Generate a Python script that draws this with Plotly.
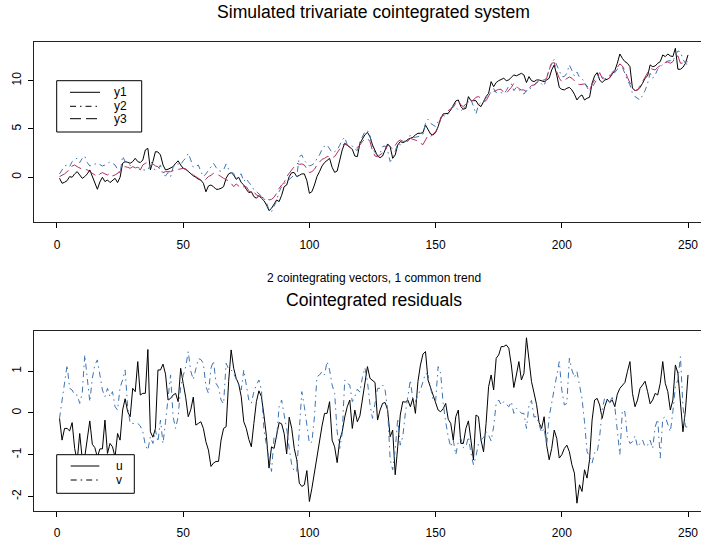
import plotly.graph_objects as go

# ---------------- data ----------------
t = list(range(1, 251))

y1 = [
-0.10,-0.62,-0.52,-0.35,0.07,0.00,0.35,0.58,0.24,-0.11,
0.07,0.35,0.76,0.07,-0.69,-1.24,-0.48,0.00,-0.45,-0.28,
-0.55,-0.35,-0.11,-0.55,0.00,1.45,1.62,1.55,1.45,1.62,
1.96,1.62,1.52,1.79,2.83,3.00,0.76,1.62,2.65,2.62,
2.31,1.27,0.76,0.83,0.93,1.10,1.45,1.70,1.27,0.93,
0.83,0.58,0.30,0.15,0.00,-0.20,-0.30,-0.62,-1.50,-0.90,
-0.80,-0.97,-1.24,-1.24,-1.14,-0.97,-0.11,0.35,0.48,0.24,
-0.21,0.00,-0.55,-0.80,-1.24,-1.59,-1.49,-2.00,-2.17,-1.90,
-2.17,-2.42,-2.87,-3.45,-3.21,-2.76,-2.35,-2.52,-1.87,-0.97,
-0.80,0.07,0.48,0.48,0.07,0.20,0.35,0.35,-0.35,-1.66,
-1.49,-0.80,0.07,0.58,1.17,1.52,1.79,1.96,1.03,0.51,
0.65,1.86,2.83,3.52,3.34,3.17,2.90,2.20,2.14,3.50,
3.90,4.40,4.65,4.20,3.34,2.83,2.20,2.03,2.20,2.83,
3.45,3.17,1.96,2.31,3.34,3.69,3.59,3.69,3.93,4.03,
4.14,4.38,4.55,4.55,4.62,5.41,4.97,4.48,4.38,4.62,
5.24,6.10,6.55,6.62,6.62,6.97,7.49,7.90,8.00,7.32,
7.04,7.14,8.35,7.93,7.93,7.93,7.49,7.32,7.83,8.35,
8.69,9.90,9.38,9.80,10.00,10.14,10.25,10.00,10.07,10.35,
10.59,10.50,10.66,10.76,10.59,9.80,10.42,10.00,9.90,10.07,
10.07,10.00,9.90,10.07,10.25,11.11,11.63,10.59,9.30,9.10,
9.04,9.21,9.30,9.04,8.60,8.00,8.35,8.52,8.00,8.18,
8.28,9.73,10.50,10.83,10.07,9.80,10.07,10.14,10.30,10.70,
11.04,11.80,12.76,12.31,11.97,11.80,11.45,9.21,8.97,9.04,
9.30,9.73,10.25,10.50,11.63,11.45,11.52,11.80,11.97,12.66,
12.49,12.76,12.56,12.49,13.35,11.18,11.18,11.38,11.80,12.66]

y2 = [
0.34,0.83,1.17,1.27,1.10,1.62,1.86,1.96,1.52,1.96,
2.20,1.52,1.17,1.27,1.38,1.45,1.31,1.17,1.27,1.45,
1.59,1.45,1.27,0.83,0.41,2.20,1.62,1.38,1.27,1.10,
0.97,1.03,0.93,0.76,0.76,0.76,1.27,0.93,0.76,0.83,
1.27,0.24,0.14,0.48,0.07,1.03,1.38,1.38,1.27,1.72,
1.96,2.48,1.79,1.03,1.10,1.27,0.58,0.07,0.34,0.69,
1.10,1.45,1.03,0.69,0.62,0.76,1.38,0.83,0.51,0.41,
-0.21,0.24,0.34,-0.45,-0.11,-0.55,-0.80,-1.31,-1.49,-1.73,
-1.93,-2.17,-2.62,-3.38,-3.56,-2.97,-2.42,-1.49,-0.97,-0.69,
-0.45,-0.18,0.07,0.24,0.07,2.14,2.31,1.72,1.45,1.17,
1.27,1.45,1.93,2.31,2.90,3.24,3.34,2.90,2.55,2.65,
2.83,3.31,3.86,4.14,3.34,3.34,3.24,2.90,2.76,3.65,
4.28,4.72,4.83,4.38,3.00,2.55,2.31,2.48,3.17,3.24,
2.76,1.62,1.96,2.76,3.45,3.34,3.69,3.76,3.72,4.38,
4.14,4.14,4.21,4.28,4.48,5.59,6.00,5.59,5.41,5.24,
5.76,6.21,6.41,6.28,6.55,6.97,7.45,7.25,6.97,6.87,
7.10,7.38,7.83,8.07,7.32,6.55,7.49,7.73,7.83,8.28,
8.45,8.87,9.17,8.76,8.80,8.76,8.62,8.97,9.45,9.66,
8.97,9.31,9.10,8.76,8.62,8.97,8.94,9.40,9.50,9.85,
9.93,9.66,9.45,10.35,11.18,11.87,12.21,11.63,11.04,10.42,
10.42,10.76,11.63,11.11,10.49,10.90,10.35,10.18,9.90,9.31,
8.87,9.31,9.73,10.21,10.59,10.42,10.14,10.42,10.56,10.70,
10.83,11.18,11.73,11.38,10.70,10.07,9.56,8.69,8.35,8.18,
8.00,8.49,8.97,9.73,10.76,10.25,10.59,11.18,11.45,11.73,
11.90,12.04,12.07,11.97,12.66,13.07,13.00,12.21,11.80,11.63]

y3 = [
0.07,0.17,0.35,0.58,0.76,1.17,1.27,1.10,0.93,0.83,
0.83,0.76,0.58,0.41,0.24,0.07,0.35,0.48,0.35,0.24,
0.41,0.14,0.24,0.41,0.58,1.03,1.10,1.03,0.93,1.10,
1.03,0.90,0.76,1.27,1.45,1.52,1.62,1.38,1.17,1.10,
0.83,0.48,0.58,0.58,0.58,0.69,0.76,0.76,0.83,0.93,
0.83,0.69,0.48,0.24,0.07,-0.11,-0.21,-0.45,-0.18,0.07,
0.20,0.41,0.41,0.20,0.07,-0.11,-0.21,-0.38,-0.62,-0.97,
-0.69,-0.90,-1.14,-0.97,-0.97,-1.38,-1.66,-1.49,-1.83,-1.93,
-2.07,-2.17,-2.17,-2.35,-2.28,-2.07,-1.66,-1.14,-0.80,-0.55,
0.07,0.48,0.76,1.10,1.45,1.34,1.38,1.27,0.93,0.48,
0.58,0.83,1.27,1.52,1.86,1.96,2.14,2.14,2.03,2.14,
2.48,2.93,3.34,3.45,3.31,3.17,2.90,2.90,3.10,3.34,
3.69,3.93,4.03,3.69,2.76,2.20,2.14,2.31,2.55,2.69,
3.34,3.17,2.90,3.34,3.69,3.86,3.72,3.59,3.76,4.03,
3.93,3.86,3.76,3.52,3.38,3.86,4.34,4.21,4.48,4.72,
5.17,6.00,6.55,6.73,6.83,7.04,7.25,7.66,7.93,7.49,
7.32,7.59,7.73,7.86,8.00,8.28,8.35,8.18,7.83,7.93,
8.35,8.87,8.87,8.97,9.10,9.10,8.76,8.69,8.97,9.30,
9.73,9.45,9.17,9.04,9.04,8.87,9.21,9.50,9.56,9.73,
10.00,10.07,10.07,10.25,11.18,11.80,11.87,10.93,10.25,9.90,
10.07,10.25,10.38,10.25,10.00,9.73,9.59,9.66,9.66,9.45,
8.97,9.66,10.07,10.42,10.83,10.25,10.07,10.07,10.35,10.83,
11.18,11.38,11.73,11.52,11.04,10.35,9.80,9.21,8.97,9.04,
9.45,9.90,10.28,10.76,11.28,11.18,11.11,11.38,11.59,11.73,
11.87,11.94,11.80,11.97,12.42,12.56,11.80,11.80,11.87,11.97]

u = [
-0.13,-0.65,-0.37,-0.37,-0.43,-0.23,-0.85,-1.15,-0.49,-1.10,
-1.05,-0.65,-0.19,-0.75,-0.83,-1.06,-0.86,-0.86,-0.17,-0.97,
-0.73,-0.81,-1.06,-0.49,-0.65,0.07,0.34,0.03,-0.09,0.59,
0.51,1.23,0.43,0.47,0.47,1.52,-0.45,-0.58,-0.37,1.03,
1.03,1.17,0.93,0.31,0.35,0.43,0.47,0.27,1.07,0.71,
0.37,-0.09,0.08,0.38,-0.29,-0.25,-0.21,-0.37,-0.69,-0.89,
-1.28,-1.20,-1.16,-1.16,-0.65,-0.37,-0.33,0.75,1.51,1.07,
0.83,0.69,0.39,-0.21,-0.37,-0.63,-0.81,-0.25,0.27,0.53,
0.39,-0.05,-0.57,-1.32,-0.81,-0.85,-0.57,-0.23,-0.26,-0.49,
-0.98,-0.10,-0.37,-0.85,-1.12,-1.68,-1.76,-1.72,-1.38,-2.12,
-1.80,-1.40,-1.04,-0.65,-0.31,-0.01,-0.01,0.27,-0.65,-0.81,
-1.19,-0.65,-0.45,-0.10,0.15,0.31,-0.37,0.07,-0.21,-0.07,
0.31,0.79,1.11,0.83,0.77,0.73,-0.17,0.07,0.23,0.25,
0.07,-0.57,-0.41,-1.48,-0.81,-0.05,0.27,0.26,0.31,0.15,
0.35,-0.01,0.75,1.15,1.41,1.47,0.79,0.61,0.43,0.23,
0.07,0.03,0.10,0.23,-0.15,-0.25,-0.65,-0.09,0.07,-0.73,
-0.73,-0.37,-0.19,-0.65,-1.12,-0.05,-0.09,-0.65,-0.93,-0.25,
0.63,0.91,0.55,1.31,1.39,1.59,1.59,1.63,1.55,1.15,
0.61,0.91,1.23,0.79,0.95,1.80,1.31,0.75,0.48,0.20,
-0.23,-0.37,-0.09,-0.77,-1.12,-0.85,-0.41,-0.61,-1.08,-1.00,
-0.85,-0.77,-0.93,-1.24,-1.44,-2.16,-1.72,-1.88,-1.36,-1.56,
-1.12,-0.17,0.31,0.35,0.19,-0.13,0.15,0.33,0.25,0.31,
0.15,0.45,0.59,0.65,0.73,0.99,1.23,0.47,0.15,0.31,
0.59,0.67,0.76,0.51,0.22,0.31,0.47,0.43,0.71,1.23,
0.71,0.51,0.07,0.31,1.15,0.95,0.31,-0.45,0.07,0.91]

v = [
-0.13,0.27,0.71,1.15,0.59,0.55,0.43,0.43,0.23,0.47,
1.39,0.79,0.27,0.83,1.15,1.27,0.91,0.55,0.39,0.59,
0.39,0.51,0.15,0.07,0.61,0.79,1.03,0.15,-0.25,-0.25,
-0.25,-0.25,-0.31,-0.45,-0.77,-0.89,-0.57,-0.73,-0.41,-0.69,
-0.17,-0.73,-0.21,0.39,0.91,-0.09,-0.37,-0.09,0.63,0.89,
1.11,1.47,1.00,0.80,1.07,1.30,1.28,1.19,0.63,0.47,
1.07,1.25,0.71,0.61,0.31,0.22,1.19,1.05,1.03,0.95,
0.81,0.67,0.55,1.03,0.67,0.31,0.23,0.51,0.67,0.79,
0.55,-0.41,-0.77,-1.12,-1.40,-0.57,-0.61,0.15,0.31,-0.05,
-0.37,-0.85,-1.24,-1.40,-1.40,-0.41,0.51,0.15,-0.33,-0.73,
-0.69,-0.09,0.87,0.91,0.99,0.91,1.23,1.03,0.67,0.47,
-0.45,-0.85,-0.49,0.79,0.71,0.67,0.27,0.39,0.57,0.50,
0.85,1.08,0.75,0.20,-0.13,0.27,0.59,0.59,0.67,0.55,
0.07,-1.12,-1.36,-0.89,-0.13,-0.77,-0.57,-0.01,0.43,0.79,
0.31,0.27,0.43,0.55,0.75,0.95,0.91,0.63,0.31,0.27,
1.11,0.95,0.23,-0.21,-0.57,-0.81,-0.65,-1.00,-0.69,-0.61,
-0.83,-0.81,-0.57,-0.96,-1.24,-1.04,-0.73,-0.65,-0.59,-0.45,
-0.53,-0.67,-0.33,0.23,0.31,0.19,0.27,0.21,0.15,0.27,
-0.01,0.11,0.07,-0.01,-0.01,-0.37,0.19,0.30,-0.10,-0.08,
-0.30,-0.47,-0.37,-0.77,-0.09,0.23,0.51,0.87,1.23,0.55,
0.19,0.23,1.31,1.03,0.85,0.99,0.67,0.35,-0.21,-0.93,
-1.04,-1.20,-0.95,-0.95,-0.57,0.07,0.37,0.27,0.27,0.37,
0.15,-0.41,-1.00,0.07,0.03,-0.57,-0.73,-0.69,-0.55,-0.81,
-0.73,-0.65,-0.81,-0.77,-0.65,-0.85,-0.33,-0.15,-1.08,-0.13,
-0.09,-0.29,-0.45,0.03,0.63,0.79,1.35,0.15,-0.33,-0.34]

x_ticks = [0, 50, 100, 150, 200, 250]
y_ticks_top = [0, 5, 10]
y_ticks_bot = [-2, -1, 0, 1]
legend_top = ["y1", "y2", "y3"]
legend_bot = ["u", "v"]
main_title = "Simulated trivariate cointegrated system"
sub_title = "2 cointegrating vectors, 1 common trend"
bot_title = "Cointegrated residuals"

# ---------------- styling ----------------
W, H = 701, 541
FONT = "Liberation Sans, Arial, Helvetica, sans-serif"
BLUE = "#3f74b2"
RED = "#b03060"
DASHDOT = "6px,4px,1.5px,4px"
LONGDASH = "11px,5px"

def fx(p):
    return p / W

def fy(p):
    return 1 - p / H

fig = go.Figure()

line_specs_top = [
    (y1, dict(color="black", width=1)),
    (y2, dict(color=BLUE, width=1, dash=DASHDOT)),
    (y3, dict(color=RED, width=1, dash=LONGDASH)),
]
for ys, ln in line_specs_top:
    fig.add_trace(go.Scatter(x=t, y=ys, mode="lines", line=ln,
                             xaxis="x", yaxis="y", showlegend=False,
                             hoverinfo="skip"))

fig.add_trace(go.Scatter(x=t, y=u, mode="lines",
                         line=dict(color="black", width=1),
                         xaxis="x2", yaxis="y2", showlegend=False,
                         hoverinfo="skip"))
fig.add_trace(go.Scatter(x=t, y=v, mode="lines",
                         line=dict(color=BLUE, width=1, dash=DASHDOT),
                         xaxis="x2", yaxis="y2", showlegend=False,
                         hoverinfo="skip"))

x_dom = [fx(34), 1.0]
x_rng = [-9.11, 255.15]

def xaxis_cfg(anchor):
    return dict(domain=x_dom, range=x_rng, anchor=anchor,
                tickmode="array", tickvals=x_ticks,
                ticks="outside", ticklen=5, tickcolor="black", tickwidth=1,
                showline=True, linecolor="#222", linewidth=1, mirror=True,
                showgrid=False, zeroline=False,
                tickfont=dict(family=FONT, size=12, color="black"),
                ticklabelstandoff=6)

def yaxis_cfg(anchor, dom, rng, ticks):
    return dict(domain=dom, range=rng, anchor=anchor,
                tickmode="array", tickvals=ticks,
                ticktext=[str(k) for k in ticks],
                ticks="outside", ticklen=5, tickcolor="black", tickwidth=1,
                showline=True, linecolor="#222", linewidth=1, mirror=False,
                showgrid=False, zeroline=False, tickangle=-90,
                tickfont=dict(family=FONT, size=12, color="black"),
                ticklabelstandoff=2)

fig.update_layout(
    width=W, height=H,
    margin=dict(l=0, r=0, t=0, b=0),
    paper_bgcolor="white", plot_bgcolor="white",
    showlegend=False,
    xaxis=xaxis_cfg("y"),
    yaxis=yaxis_cfg("x", [fy(222.3), fy(42.3)], [-4.66, 13.97], y_ticks_top),
    xaxis2=xaxis_cfg("y2"),
    yaxis2=yaxis_cfg("x2", [fy(510.7), fy(330.7)], [-2.34, 1.97], y_ticks_bot),
)

shapes = []
annotations = []

# titles
cx = fx(373.5)
annotations.append(dict(text=main_title, x=cx, y=fy(12.5), xref="paper", yref="paper",
                        xanchor="center", yanchor="middle", showarrow=False,
                        font=dict(family=FONT, size=17.6, color="black")))
annotations.append(dict(text=sub_title, x=cx, y=fy(277.5), xref="paper", yref="paper",
                        xanchor="center", yanchor="middle", showarrow=False,
                        font=dict(family=FONT, size=12, color="black")))
annotations.append(dict(text=bot_title, x=cx, y=fy(299.5), xref="paper", yref="paper",
                        xanchor="center", yanchor="middle", showarrow=False,
                        font=dict(family=FONT, size=17.6, color="black")))

def legend_box(x0, y0, x1, y1_, rows, labels, dashes, seg, text_x):
    shapes.append(dict(type="rect", xref="paper", yref="paper", layer="above",
                       x0=fx(x0), x1=fx(x1), y0=fy(y1_), y1=fy(y0),
                       line=dict(color="black", width=1), fillcolor="white"))
    for ry, lab, dsh in zip(rows, labels, dashes):
        shapes.append(dict(type="line", xref="paper", yref="paper", layer="above",
                           x0=fx(seg[0]), x1=fx(seg[1]), y0=fy(ry), y1=fy(ry),
                           line=dict(color="black", width=1, dash=dsh)))
        annotations.append(dict(text=lab, x=fx(text_x), y=fy(ry), xref="paper",
                                yref="paper", xanchor="left", yanchor="middle",
                                showarrow=False,
                                font=dict(family=FONT, size=12, color="black")))

legend_box(56.7, 80.7, 141.7, 132.0, [92.3, 106.3, 118.7], legend_top,
           ["solid", DASHDOT, LONGDASH], (70, 100), 111.5)
legend_box(56.7, 454.7, 134.3, 493.3, [466.0, 480.0], legend_bot,
           ["solid", DASHDOT], (70.7, 99.3), 114.0)

fig.update_layout(shapes=shapes, annotations=annotations)

fig.write_html("out.html")
